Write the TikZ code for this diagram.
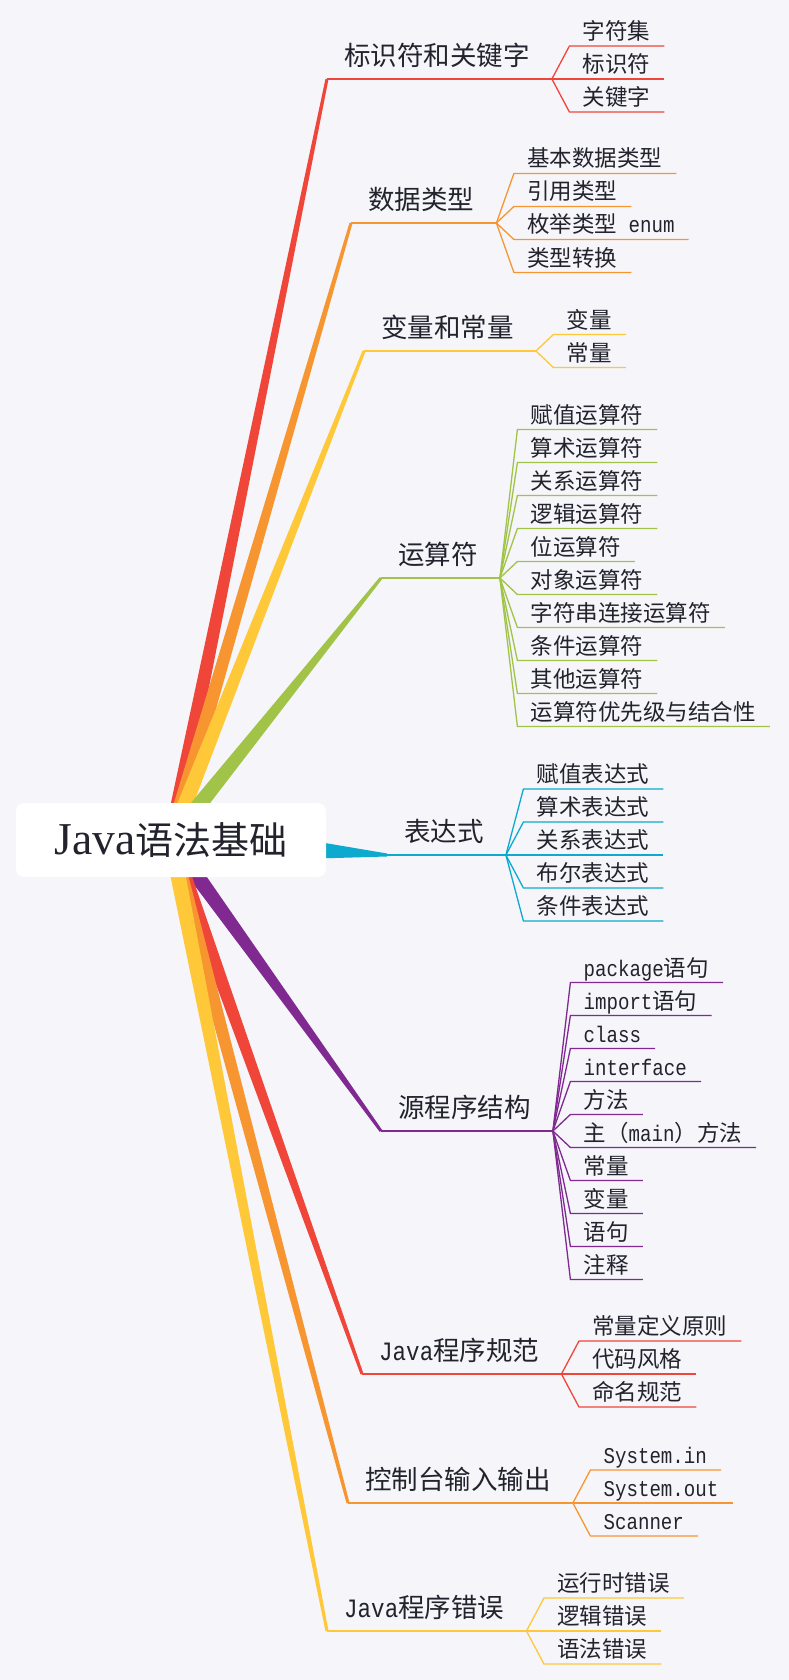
\documentclass[tikz,border=0pt]{standalone}
\usepackage{fontspec}
\setmainfont{Noto Sans CJK SC}
\newfontfamily\monofam{Liberation Mono}[Scale=1.0,FakeStretch=0.85]
\newfontfamily\seriffam{Liberation Serif}[Scale=1.2]
\usepackage{tikz}
\usetikzlibrary{positioning,calc}
\definecolor{mmred}{RGB}{240,70,57}
\definecolor{mmorange}{RGB}{247,150,48}
\definecolor{mmyellow}{RGB}{254,200,56}
\definecolor{mmgreen}{RGB}{161,195,72}
\definecolor{mmblue}{RGB}{12,170,206}
\definecolor{mmpurple}{RGB}{127,41,145}
\definecolor{mmbg}{RGB}{245,245,250}
\definecolor{mmtext}{RGB}{35,35,45}
% tapered line from the hub to a branch corner
\newcommand{\trunk}[3]{\fill[#1] ($(rc)!#3!90:(#2)$) -- ($(#2)!1.5pt!-90:(rc)$)
  -- ($(#2)!1.5pt!90:(rc)$) -- ($(rc)!#3!-90:(#2)$) -- cycle;}
% fan of underlined leaves
\newcommand{\twigs}[4]{\foreach \txt [count=\i] in {#4} {
  \coordinate (#2-u\i) at ($(#2)+(17.5,{((#3+1)/2-\i)*33})$);
  \node[twig] (#2-\i) at ($(#2-u\i)+(13,6.5)$) {\txt};
  \draw[#1,twigline] (#2) -- (#2-u\i) -- ($(#2-u\i -| #2-\i.east)+(14,0)$);}}
\begin{document}
\begin{tikzpicture}[x=1pt,y=1pt,every node/.style={text=mmtext},
hub/.style={fill=white,rounded corners=8pt,minimum width=310pt,minimum height=74pt,inner sep=0pt,font=\fontsize{38}{45}\selectfont},
limb/.style={anchor=base west,inner sep=0pt,font=\fontsize{26.5}{32}\selectfont},
twig/.style={anchor=base west,inner sep=0pt,font=\fontsize{22.5}{27}\selectfont},
limbline/.style={line width=2.5pt,line join=round},
twigline/.style={line width=1.3pt,line join=round}]
\useasboundingbox (0,0) rectangle (789,-1680);
\fill[mmbg] (0,0) rectangle (789,-1680);
\coordinate (rc) at (171,-840);
% branch corners and labels
\coordinate (c1) at (327,-79);
\coordinate (c2) at (351,-223);
\coordinate (c3) at (364,-351);
\coordinate (c4) at (381,-578);
\coordinate (c5) at (387,-855);
\coordinate (c6) at (381,-1131);
\coordinate (c7) at (362,-1374);
\coordinate (c8) at (348,-1503);
\coordinate (c9) at (327,-1631);
\node[limb] (b1) at ($(c1)+(17,13.5)$) {标识符和关键字};
\node[limb] (b2) at ($(c2)+(17,13.5)$) {数据类型};
\node[limb] (b3) at ($(c3)+(17,13.5)$) {变量和常量};
\node[limb] (b4) at ($(c4)+(17,13.5)$) {运算符};
\node[limb] (b5) at ($(c5)+(17,13.5)$) {表达式};
\node[limb] (b6) at ($(c6)+(17,13.5)$) {源程序结构};
\node[limb] (b7) at ($(c7)+(17,13.5)$) {{\monofam Java}程序规范};
\node[limb] (b8) at ($(c8)+(17,13.5)$) {控制台输入输出};
\node[limb] (b9) at ($(c9)+(17,13.5)$) {{\monofam Java}程序错误};
\foreach \k in {1,...,9} \coordinate (f\k) at ($(c\k -| b\k.east)+(22,0)$);
% tapered trunks
\trunk{mmred}{c1}{7.8pt}
\trunk{mmorange}{c2}{7.9pt}
\trunk{mmyellow}{c3}{8pt}
\trunk{mmgreen}{c4}{8.5pt}
\trunk{mmblue}{c5}{22.8pt}
\trunk{mmpurple}{c6}{8.4pt}
\trunk{mmred}{c7}{8pt}
\trunk{mmorange}{c8}{7.9pt}
\trunk{mmyellow}{c9}{7.8pt}
\node[hub] (hub) at (rc) {{\seriffam Java}语法基础};
% branch lines
\draw[mmred,limbline] (c1) -- (f1);
\draw[mmorange,limbline] (c2) -- (f2);
\draw[mmyellow,limbline] (c3) -- (f3);
\draw[mmgreen,limbline] (c4) -- (f4);
\draw[mmblue,limbline] (c5) -- (f5);
\draw[mmpurple,limbline] (c6) -- (f6);
\draw[mmred,limbline] (c7) -- (f7);
\draw[mmorange,limbline] (c8) -- (f8);
\draw[mmyellow,limbline] (c9) -- (f9);
% leaves
\twigs{mmred}{f1}{3}{字符集,标识符,关键字}
\twigs{mmorange}{f2}{4}{基本数据类型,引用类型,枚举类型{\monofam\ enum},类型转换}
\twigs{mmyellow}{f3}{2}{变量,常量}
\twigs{mmgreen}{f4}{10}{赋值运算符,算术运算符,关系运算符,逻辑运算符,位运算符,对象运算符,字符串连接运算符,条件运算符,其他运算符,运算符优先级与结合性}
\twigs{mmblue}{f5}{5}{赋值表达式,算术表达式,关系表达式,布尔表达式,条件表达式}
\twigs{mmpurple}{f6}{10}{{\monofam package}语句,{\monofam import}语句,{\monofam class},{\monofam interface},方法,主（{\monofam main}）方法,常量,变量,语句,注释}
\twigs{mmred}{f7}{3}{常量定义原则,代码风格,命名规范}
\twigs{mmorange}{f8}{3}{{\monofam System.in},{\monofam System.out},{\monofam Scanner}}
\twigs{mmyellow}{f9}{3}{运行时错误,逻辑错误,语法错误}
\end{tikzpicture}
\end{document}
